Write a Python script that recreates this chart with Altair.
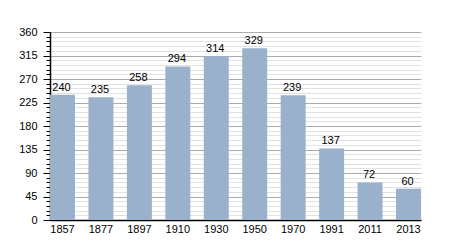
import altair as alt
import pandas as pd

years = ["1857", "1877", "1897", "1910", "1930", "1950", "1970", "1991", "2011", "2013"]
population = [240, 235, 258, 294, 314, 329, 239, 137, 72, 60]
major_ticks = [0, 45, 90, 135, 180, 225, 270, 315, 360]
minor_ticks = [v for v in range(0, 361, 9) if v % 45 != 0]

df = pd.DataFrame({"year": years, "pop": population})
minor_df = pd.DataFrame({"v": minor_ticks})

FONT = "Liberation Sans"

yscale = alt.Scale(domain=[0, 360], nice=False, zero=True)

minor = alt.Chart(minor_df).mark_rule(opacity=0).encode(
    y=alt.Y("v:Q", scale=yscale, axis=alt.Axis(
        values=minor_ticks, orient="left", labels=False, title=None,
        domain=False, tickSize=4, tickColor="#000", tickWidth=1,
        grid=True, gridColor="#e2e2e2", gridWidth=1))
)

bars = alt.Chart(df).mark_bar(color="#9ab1cb").encode(
    x=alt.X("year:N", sort=None, title=None,
            scale=alt.Scale(paddingInner=0.35, paddingOuter=0),
            axis=alt.Axis(labelAngle=0, ticks=False, domainColor="#000",
                          domainWidth=1.5, labelFontSize=11, labelFont=FONT,
                          labelColor="#000", labelPadding=3)),
    y=alt.Y("pop:Q", scale=yscale, title=None,
            axis=alt.Axis(values=major_ticks, orient="left", tickSize=7,
                          tickColor="#000", domainColor="#000", domainWidth=1.5,
                          labelFontSize=11, labelFont=FONT, labelColor="#000",
                          labelPadding=6, grid=True, gridColor="#ababab",
                          gridWidth=1)),
)

labels = alt.Chart(df).mark_text(baseline="alphabetic", dy=-4, dx=-1,
                                 fontSize=11, font=FONT, color="#000").encode(
    x=alt.X("year:N", sort=None),
    y=alt.Y("pop:Q", scale=yscale, axis=None),
    text="pop:Q",
)

chart = alt.layer(minor, bars, labels).resolve_axis(y="independent").properties(
    width=371, height=188,
    autosize=alt.AutoSizeParams(type="none"),
    padding={"left": 50, "top": 32, "right": 29, "bottom": 30},
    background="white",
).configure_view(stroke=None)

chart.save("out.html", embed_options={"renderer": "svg", "actions": False})
